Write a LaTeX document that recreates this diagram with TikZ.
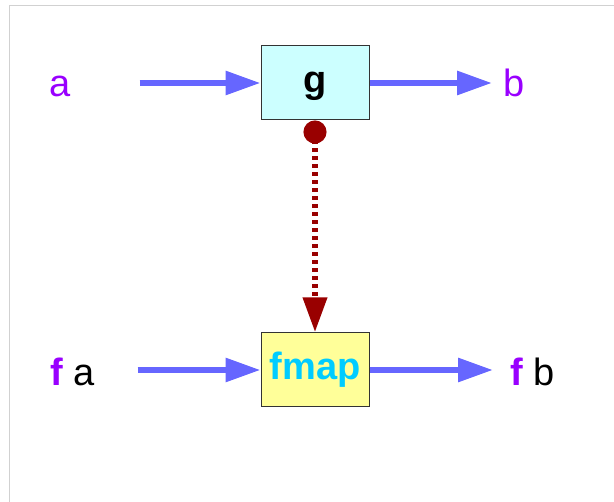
\documentclass[tikz,border=0pt]{standalone}
\usepackage{fontspec}
\setmainfont{Liberation Sans}
\usetikzlibrary{arrows.meta}
\definecolor{arrblue}{HTML}{6666FF}
\definecolor{dred}{HTML}{990000}
\definecolor{purp}{HTML}{9900FF}
\definecolor{fcyan}{HTML}{00CCFF}
\definecolor{gfill}{HTML}{CCFFFF}
\definecolor{ffill}{HTML}{FFFF99}
\begin{document}
\begin{tikzpicture}[x=1pt,y=-1pt,
  lbl/.style={inner sep=0pt,anchor=base west,font=\fontsize{38}{40}\selectfont},
  fbox/.style={draw=black!80,line width=1pt,minimum width=108pt,minimum height=74pt,inner sep=0pt,text height=27.5pt,text depth=8pt,font=\fontsize{38}{40}\selectfont\bfseries},
  bluearrow/.style={draw=arrblue,line width=6pt,-{Triangle[length=35pt,width=23pt]}},
  redarrow/.style={draw=dred,line width=6.5pt,dash pattern=on 3.5pt off 4.5pt,{Circle[length=23pt,width=23pt]}-{Triangle[length=35pt,width=23pt]}}]
\useasboundingbox (0,0) rectangle (614,502);
\draw[black!18,line width=1.5pt] (9.5,502) -- (9.5,5.5) -- (614,5.5);
\node[fbox,fill=gfill] (g) at (315,83) {g};
\node[fbox,fill=ffill,text=fcyan] (fmap) at (315,370) {fmap};
\node[lbl,text=purp] (a) at (49,97) {a};
\node[lbl,text=purp] (b) at (503,97) {b};
\node[lbl] (fa) at (50,386) {\textcolor{purp}{\bfseries f} a};
\node[lbl] (fb) at (510,386) {\textcolor{purp}{\bfseries f} b};
\draw[bluearrow,shorten <=69pt] (g.west -| a.east) -- (g.west);
\draw[bluearrow,shorten >=11pt] (g.east) -- (g.east -| b.west);
\draw[bluearrow,shorten <=43pt] (fmap.west -| fa.east) -- (fmap.west);
\draw[bluearrow,shorten >=17pt] (fmap.east) -- (fmap.east -| fb.west);
\draw[redarrow,line cap=butt] (g.south) -- (fmap.north);
\end{tikzpicture}
\end{document}
